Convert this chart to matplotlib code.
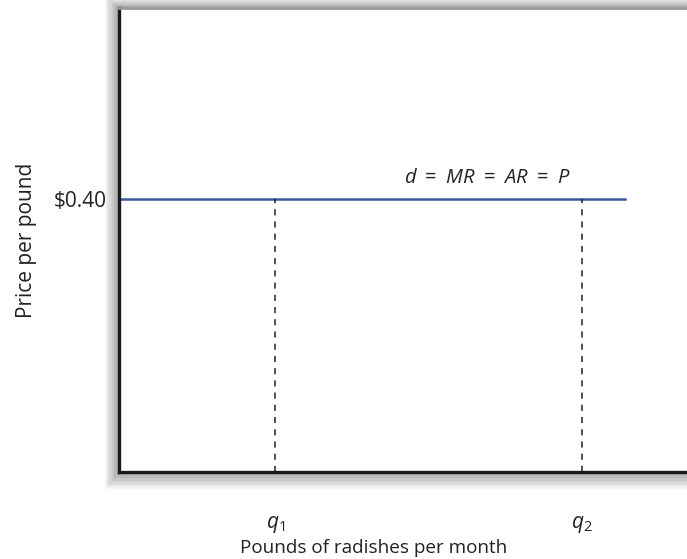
import matplotlib
matplotlib.use("Agg")
import matplotlib.pyplot as plt
from matplotlib.patches import Rectangle

plt.rcParams["font.family"] = ["Open Sans", "DejaVu Sans"]
plt.rcParams["mathtext.fontset"] = "custom"
plt.rcParams["mathtext.rm"] = "Open Sans"
plt.rcParams["mathtext.it"] = "Open Sans:italic"

price = 0.40
quantities = [2.75, 8.15]
quantity_labels = ["$q_1$", "$q_2$"]
demand_x = [0, 8.91]
demand_label = r"$d\ =\ MR\ =\ AR\ =\ P$"
price_label = "$0.40"

W, H = 687, 559
figure = plt.figure(figsize=[W / 100, H / 100], dpi=100)
left, bottom, top = 119 / W, (H - 472) / H, (H - 8) / H
ax = figure.add_axes([left, bottom, 1.0 - left, top - bottom])

# soft shadow around the box, darker near the edge
for i in range(1, 13):
    px = i * 1.2
    figure.patches.append(Rectangle((left - px / W, bottom - px * 1.2 / H), 1.2,
                                    top - bottom + px * 1.9 / H,
                                    transform=figure.transFigure, facecolor="black",
                                    edgecolor="none", alpha=0.03, zorder=-1))

ax.set_xlim(0, 10)
ax.set_ylim(0, 0.68)

ax.plot(demand_x, [price, price], color="#3a5a9c", linewidth=1.8)
for q in quantities:
    ax.plot([q, q], [0, price], color="#222222", linewidth=1.1, linestyle=(0, (4, 4)))

ax.text(6.48, price + 0.016, demand_label, fontsize=14.5, ha="center", va="bottom", color="#222222")

ax.set_xticks(quantities)
ax.set_xticklabels(quantity_labels, fontsize=15)
ax.set_yticks([price])
ax.set_yticklabels([price_label], fontsize=15)
ax.tick_params(length=0, colors="#222222")
ax.tick_params(axis="x", pad=30)
ax.tick_params(axis="y", pad=9)

ax.set_xlabel("Pounds of radishes per month", fontsize=13.6, color="#222222")
ax.set_ylabel("Price per pound", fontsize=15, color="#222222")
ax.xaxis.set_label_coords(0.449, -0.145)
ax.yaxis.set_label_coords(-0.144, 0.5)

ax.spines["left"].set_linewidth(2.4)
ax.spines["bottom"].set_linewidth(2.4)
ax.spines["left"].set_color("#1a1a1a")
ax.spines["bottom"].set_color("#1a1a1a")
ax.spines["top"].set_color("#999999")
ax.spines["top"].set_linewidth(2)
ax.spines["right"].set_visible(False)

figure.savefig("out.png", dpi=100)
